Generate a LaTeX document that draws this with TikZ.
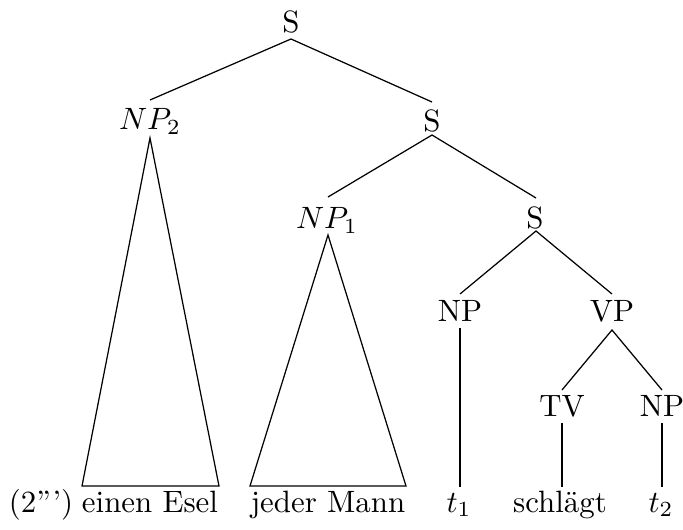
\documentclass[tikz,border=0pt]{standalone}
\begin{document}
\begin{tikzpicture}[x=0.324pt,y=-0.324pt,
  lbl/.style={anchor=base,inner sep=0pt},
  edge/.style={line width=0.4pt}]
\useasboundingbox (0,0) rectangle (683,530);
% labels
\node[lbl] (s1) at (291,33) {S};
\node[lbl] (np2) at (150,130) {$NP_2$};
\node[lbl] (s2) at (432,132) {S};
\node[lbl] (np1) at (327,229) {$NP_1$};
\node[lbl] (s3) at (535,229) {S};
\node[lbl] (np) at (460,322) {NP};
\node[lbl] (vp) at (612,322) {VP};
\node[lbl] (tv) at (562,417) {TV};
\node[lbl] (npo) at (662,417) {NP};
\node[lbl] (ex) at (41,512) {(2''')};
\node[lbl] (esel) at (150,512) {einen Esel};
\node[lbl] (mann) at (328,512) {jeder Mann};
\node[lbl] (t1) at (459,512) {$t_1$};
\node[lbl] (schl) at (560,512) {schlägt};
\node[lbl] (t2) at (661,512) {$t_2$};
% edge end points
\coordinate (s1d) at (291,39);
\coordinate (np2u) at (150,100);
\coordinate (s2u) at (432,102);
\coordinate (s2d) at (432,135);
\coordinate (np1u) at (328,197);
\coordinate (s3u) at (536,198);
\coordinate (s3d) at (536,231);
\coordinate (npu) at (460,294);
\coordinate (vpu) at (612,294);
\coordinate (npd) at (460,328);
\coordinate (vpd) at (612,330);
\coordinate (tvu) at (562,390);
\coordinate (npou) at (662,390);
\coordinate (tvd) at (562,423);
\coordinate (npod) at (662,423);
\coordinate (t1u) at (460,487);
\coordinate (schlu) at (562,487);
\coordinate (t2u) at (662,487);
\coordinate (np2d) at (150,138);
\coordinate (eselL) at (82,486);
\coordinate (eselR) at (219,486);
\coordinate (np1d) at (328,235);
\coordinate (mannL) at (250,486);
\coordinate (mannR) at (406,486);
% edges
\draw[edge] (np2u) -- (s1d) -- (s2u);
\draw[edge] (np1u) -- (s2d) -- (s3u);
\draw[edge] (npu) -- (s3d) -- (vpu);
\draw[edge] (tvu) -- (vpd) -- (npou);
\draw[edge] (npd) -- (t1u);
\draw[edge] (tvd) -- (schlu);
\draw[edge] (npod) -- (t2u);
\draw[edge] (np2d) -- (eselL) -- (eselR) -- cycle;
\draw[edge] (np1d) -- (mannL) -- (mannR) -- cycle;
\end{tikzpicture}
\end{document}
